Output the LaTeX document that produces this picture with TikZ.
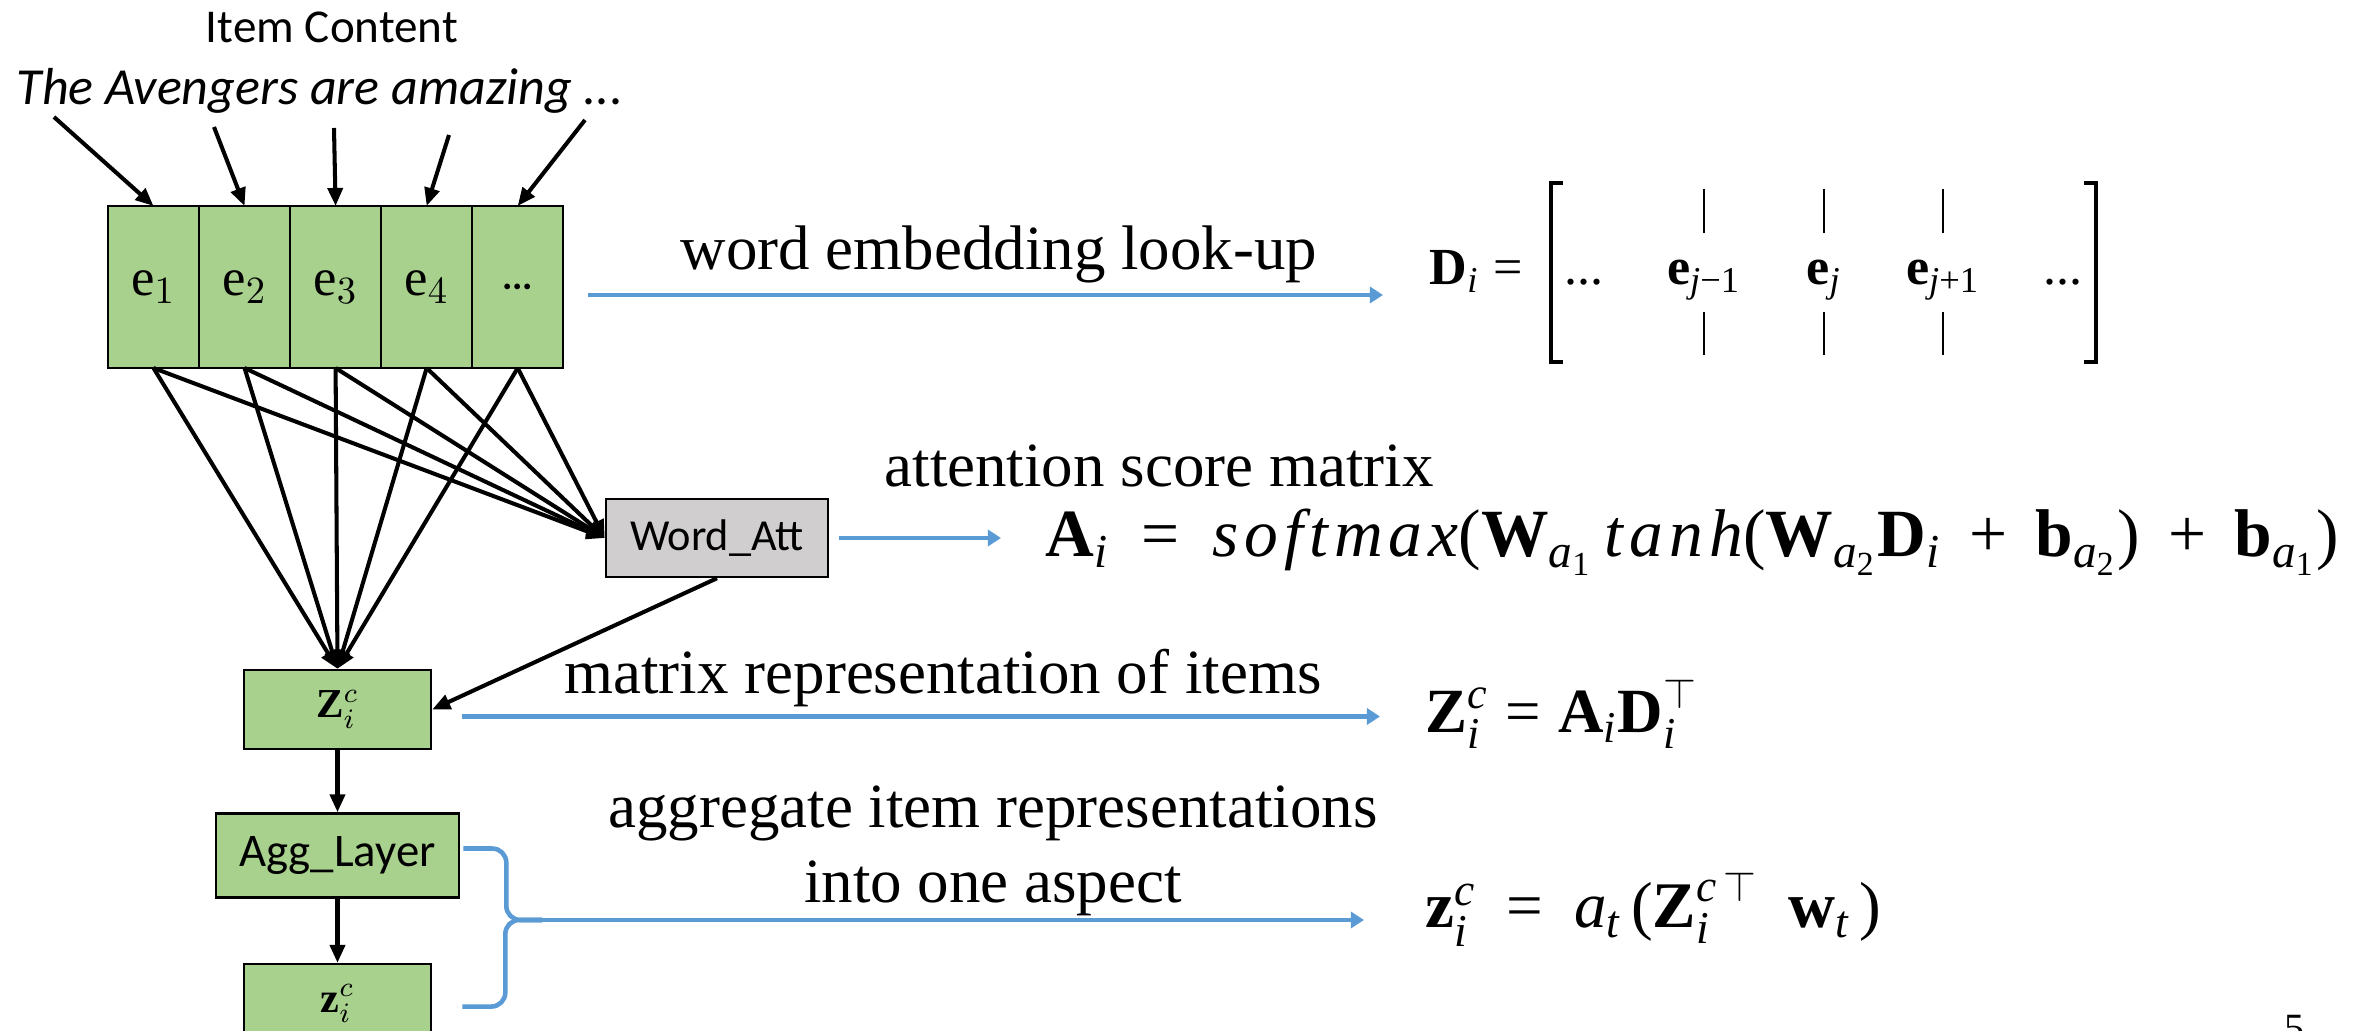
\documentclass[tikz,border=0pt]{standalone}
\usepackage{amsmath}
\usepackage{fontspec}
\setmainfont{Liberation Serif}
\newfontfamily\calibri{Carlito}
\usepackage{xcolor}
\usepackage{tikz}
\usetikzlibrary{arrows.meta, positioning, calc}
\definecolor{cellgreen}{RGB}{169, 209, 142}
\definecolor{attgray}{RGB}{208, 206, 206}
\definecolor{flowblue}{RGB}{91, 155, 213}
\newcommand{\vb}[1]{\text{\bfseries #1}}
\newcommand{\vi}[1]{\text{\itshape #1}}
\newcommand{\vs}[1]{\text{\itshape\addfontfeatures{LetterSpace=9}#1}}

\begin{document}
\begin{tikzpicture}[
    x=0.01cm, y=-0.01cm,
    cell/.style={rectangle, draw=black, line width=0.7pt, fill=cellgreen, minimum width=0.91cm, minimum height=1.62cm, outer sep=0pt, inner sep=0pt, font=\fontsize{15}{17}\selectfont},
    layerbox/.style={rectangle, draw=black, line width=0.7pt, fill=cellgreen, minimum height=0.79cm, inner sep=0pt},
    conn/.style={-{Triangle[length=0.18cm, width=0.15cm]}, line width=1.15pt},
    flow/.style={-{Triangle[length=0.13cm, width=0.16cm]}, line width=1.3pt, flowblue},
    desc/.style={font=\fontsize{17.9}{21.3}\selectfont, anchor=base, inner sep=0pt},
    eq/.style={font=\fontsize{17.9}{21.3}\selectfont, anchor=base west, inner sep=0pt},
    mat/.style={font=\fontsize{14.8}{17}\selectfont, anchor=base, inner sep=0pt},
    colbar/.style={line width=0.6pt}
]
\useasboundingbox[fill=white] (0,0) rectangle (2356,1031);

% Item content
\node[font=\calibri\fontsize{13.4}{16}\selectfont] (itemcontent) at (332,27) {Item Content};
\node[font=\calibri\itshape\fontsize{14.8}{17}\selectfont] (sentence) at (320,91) {The Avengers are amazing ...};
\coordinate (the) at (54,117);
\coordinate (avengers) at (214,127);
\coordinate (are) at (334,128);
\coordinate (amazing) at (449,135);
\coordinate (rest) at (585,120);

% Word embeddings
\node[cell] (e1) at (153.5,287) {$\mathrm{e}_1$};
\node[cell, right=0pt of e1] (e2) {$\mathrm{e}_2$};
\node[cell, right=0pt of e2] (e3) {$\mathrm{e}_3$};
\node[cell, right=0pt of e3] (e4) {$\mathrm{e}_4$};
\node[cell, right=0pt of e4, font=\calibri\bfseries\fontsize{11}{13}\selectfont] (e5) {...};

\draw[conn] (the) -- (e1.north);
\draw[conn] (avengers) -- (e2.north);
\draw[conn] (are) -- (e3.north);
\draw[conn] (amazing) -- (e4.north);
\draw[conn] (rest) -- (e5.north);

% Attention and aggregation
\node[rectangle, draw=black, line width=0.7pt, fill=attgray, minimum width=2.22cm, minimum height=0.78cm, font=\calibri\fontsize{12.6}{14}\selectfont] (watt) at (717,538) {Word\_Att};
\node[layerbox, minimum width=1.87cm, font=\fontsize{11.7}{14}\selectfont] (zc) at (337.5,709.5) {$\mathbf{Z}_i^c$};
\node[layerbox, minimum width=2.43cm, minimum height=0.84cm, font=\calibri\fontsize{13.3}{15}\selectfont, below=0.62cm of zc] (agg) {Agg\_Layer};
\node[layerbox, minimum width=1.87cm, font=\fontsize{12}{14}\selectfont, below=0.64cm of agg] (zi) {$\mathbf{z}_i^c$};

\draw[conn] (e1.south) -- (watt.west);
\draw[conn] (e2.south) -- (watt.west);
\draw[conn] (e3.south) -- (watt.west);
\draw[conn] (e4.south) -- (watt.west);
\draw[conn] (e5.south) -- (watt.west);
\draw[conn] (e1.south) -- (zc.north);
\draw[conn] (e2.south) -- (zc.north);
\draw[conn] (e3.south) -- (zc.north);
\draw[conn] (e4.south) -- (zc.north);
\draw[conn] (e5.south) -- (zc.north);
\draw[conn] (watt.south) -- (zc.east);
\draw[conn] (zc) -- (agg);
\draw[conn] (agg) -- (zi);

% Descriptions
\node[desc] (lookup) at (999,270) {word embedding look-up};
\node[desc] (attscore) at (1159,487) {attention score matrix};
\node[desc] (matrep) at (943,694) {matrix representation of items};
\node[desc, align=center, anchor=center] (aggtext) at (993,851) {aggregate item representations\\into one aspect};

% Embedding matrix
\node[eq, font=\fontsize{14.8}{17}\selectfont] (Di) at (1429,285) {$\vb{D}_{\vi{i}} \mathrel{\text{=}}$};
\node[mat] (dotsl) at (1584,285) {...};
\node[mat] (ejm) at (1704,285) {$\vb{e}_{\vi{j}\text{−1}}$};
\node[mat] (ej) at (1824,285) {$\vb{e}_{\vi{j}}$};
\node[mat] (ejp) at (1943,285) {$\vb{e}_{\vi{j}\text{+1}}$};
\node[mat] (dotsr) at (2063,285) {...};
\draw[line width=1.4pt] (1563,183) -- (1551,183) -- (1551,362) -- (1563,362);
\draw[line width=1.4pt] (2084,183) -- (2096,183) -- (2096,362) -- (2084,362);
\draw[colbar] (ejm.center |- 0,189) -- (ejm.center |- 0,233);
\draw[colbar] (ejm.center |- 0,312) -- (ejm.center |- 0,355);
\draw[colbar] (ej.center |- 0,189) -- (ej.center |- 0,233);
\draw[colbar] (ej.center |- 0,312) -- (ej.center |- 0,355);
\draw[colbar] (ejp.center |- 0,189) -- (ejp.center |- 0,233);
\draw[colbar] (ejp.center |- 0,312) -- (ejp.center |- 0,355);

% Equations
\node[eq, font=\fontsize{19.2}{23}\selectfont] (Ai) at (1045,557) {\medmuskip=7mu \thickmuskip=8mu $\vb{A}_{\vi{i}} \mathrel{\text{=}} \vs{softmax}\text{(}\vb{W}_{\vi{a}_{\text{1}}}\,\vs{tanh}\text{(}\vb{W}_{\vi{a}_{\text{2}}}\vb{D}_{\vi{i}} \mathbin{\text{+}} \vb{b}_{\vi{a}_{\text{2}}}\text{)} \mathbin{\text{+}} \vb{b}_{\vi{a}_{\text{1}}}\text{)}$};
\node[eq] (Zeq) at (1425,733) {$\vb{Z}^{\vi{c}}_{\vi{i}} \mathrel{\text{=}} \vb{A}_{\vi{i}}\vb{D}^{\top}_{\vi{i}}$};
\node[eq, font=\fontsize{18.5}{22}\selectfont] (zeq) at (1425,928) {\thickmuskip=9mu $\vb{z}^{\vi{c}}_{\vi{i}} \mathrel{\text{=}} \vi{a}_{\vi{t}}\,\text{(}\vb{Z}^{\vi{c}\,\top}_{\vi{i}}\;\vb{w}_{\vi{t}}\,\text{)}$};

% Blue flows
\draw[flow] ([xshift=0.25cm, yshift=-0.08cm]e5.east) -- ([xshift=-0.46cm, yshift=-0.08cm]e5.east -| Di.west);
\draw[flow] ([xshift=0.1cm]watt.east) -- ([xshift=-0.44cm]watt.east -| Ai.west);
\draw[flow] ([xshift=0.3cm, yshift=-0.07cm]zc.east) -- ([xshift=-0.45cm, yshift=-0.07cm]zc.east -| Zeq.west);
\coordinate (aspect) at (542,920);
\draw[flowblue, line width=1.3pt, rounded corners=0.14cm] ([xshift=0.03cm, yshift=0.07cm]agg.east) -- ++(43,0) |- (aspect);
\draw[flowblue, line width=1.3pt, rounded corners=0.14cm] ([xshift=0.3cm, yshift=-0.03cm]zi.east) -- ++(43,0) |- (aspect);
\draw[flow] (aspect) -- ([xshift=-0.61cm]aspect -| zeq.west);

% Page number
\node[font=\fontsize{11.4}{13}\selectfont, anchor=base west, inner sep=0pt] (pagenum) at (2284,1042) {5};
\end{tikzpicture}
\end{document}
